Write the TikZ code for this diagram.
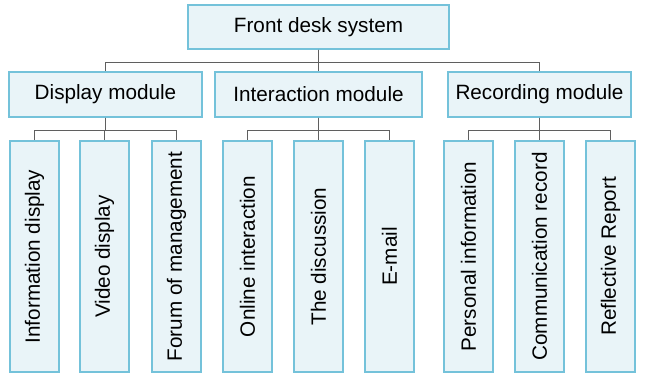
\documentclass[tikz,border=0pt]{standalone}
\usepackage{fontspec}
\setmainfont{Liberation Sans}
\usepackage{tikz}
\usetikzlibrary{calc,shadows}
\definecolor{boxfill}{HTML}{E9F4F8}
\definecolor{boxline}{HTML}{74C2DA}
\definecolor{linkgray}{HTML}{5F5F5F}

\begin{document}
\begin{tikzpicture}[x=1pt,y=-1pt,
    box/.style={draw=boxline, fill=boxfill, line width=1.2pt, inner sep=0pt,
        font=\fontsize{20.7}{24}\selectfont,
        drop shadow={shadow xshift=1pt, shadow yshift=-1pt, fill=black!18, opacity=1}},
    leafbox/.style={box, minimum width=231pt, minimum height=49pt, rotate=90},
    link/.style={draw=linkgray, line width=1.3pt}]
            \useasboundingbox (0,0) rectangle (646,373);

            % Sistema
            \node[box, minimum width=261pt, minimum height=44pt] (front) at (318.5,27) {Front desk system};

            % Modulos
            \node[box, minimum width=193pt, minimum height=45pt] (disp) at (105.5,94.5) {Display module};
            \node[box, minimum width=207pt, minimum height=45pt] (inter) at (318.5,94.5) {Interaction module};
            \node[box, minimum width=183pt, minimum height=45pt] (rec) at (539.5,94.5) {Recording module};

            % Hojas (texto vertical)
            \foreach \x/\name/\txt in {34.5/info/Information display, 104.5/video/Video display,
                    176.5/forum/Forum of management, 247.5/online/Online interaction,
                    318.5/discuss/The discussion, 389.5/email/E-mail,
                    468.5/person/Personal information, 539.5/comm/Communication record,
                    610.5/reflect/Reflective Report} {
                \node[leafbox] (\name) at (\x,256.5) {\txt};
            }

            % Conexiones
            \foreach \m in {disp,inter,rec} {
                \draw[link] (front.south) -- ++(0,13) -| (\m.north);
            }
            \foreach \leaf in {info,video,forum} {
                \draw[link] (disp.south) -- ++(0,13) -| (\leaf.east);
            }
            \foreach \leaf in {online,discuss,email} {
                \draw[link] (inter.south) -- ++(0,13) -| (\leaf.east);
            }
            \foreach \leaf in {person,comm,reflect} {
                \draw[link] (rec.south) -- ++(0,13) -| (\leaf.east);
            }
        \end{tikzpicture}
\end{document}
